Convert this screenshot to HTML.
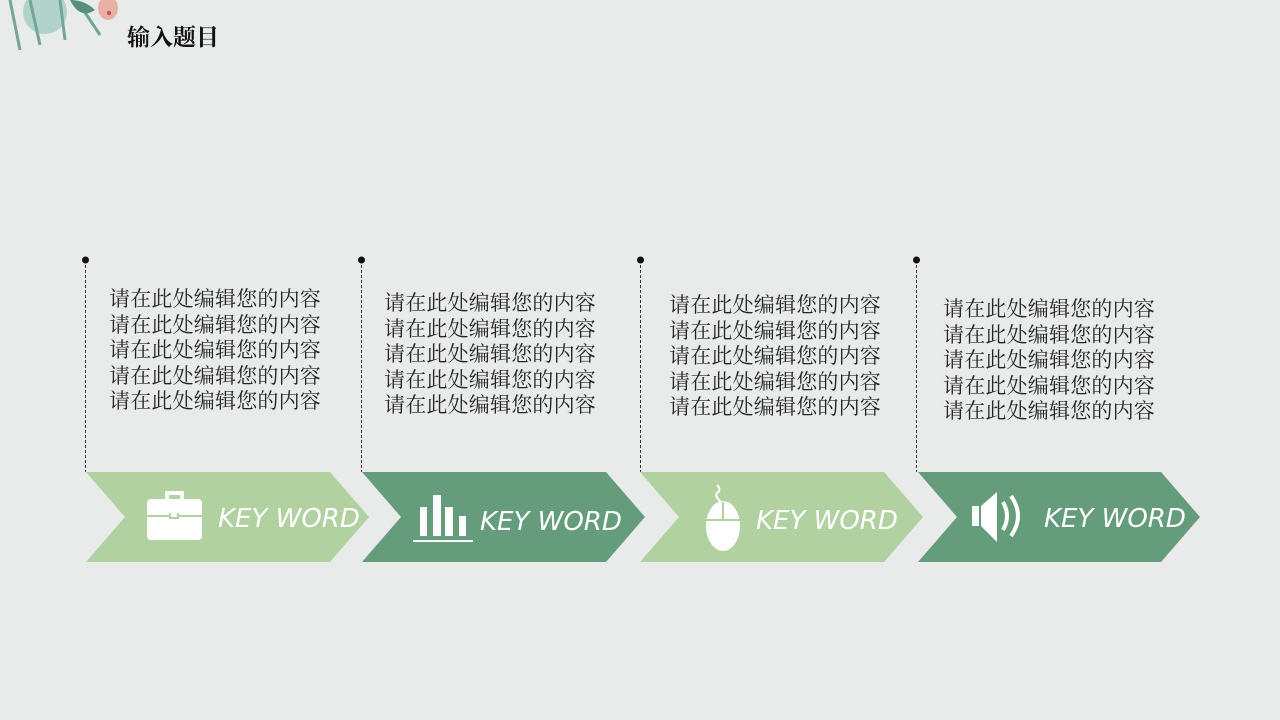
<!DOCTYPE html>
<html><head><meta charset="utf-8"><style>
body{margin:0;width:1280px;height:720px;background:#e9eaea;overflow:hidden;position:relative;font-family:"Liberation Sans","Noto Sans CJK SC",sans-serif}
.t{position:absolute;font-size:21px;line-height:25.5px;color:#262626;white-space:nowrap;letter-spacing:0.2px;font-family:"Liberation Serif","Noto Serif CJK SC",serif}
.title{position:absolute;left:127px;top:19px;font-size:23px;font-weight:bold;color:#111;font-family:"Liberation Serif","Noto Serif CJK SC",serif}
</style></head><body>
<svg width="1280" height="720" style="position:absolute;left:0;top:0">
<g opacity="0.85">
<circle cx="45" cy="12" r="22" fill="#a9cfc4"/>
<path d="M10 0 L20 50 M30 0 L40 45 M60 0 L65 40 M80 5 L100 35" stroke="#5f9a8a" stroke-width="3"/>
<path d="M70 0 Q80 20 95 10 Q85 0 70 0Z" fill="#3f7f6c"/>
<ellipse cx="108" cy="8" rx="10" ry="12" fill="#e8a59a"/>
<circle cx="109" cy="13" r="2" fill="#b33"/>
</g>
<g stroke="#333" stroke-width="1" stroke-dasharray="3,2">
<line x1="85.5" y1="260" x2="85.5" y2="472"/><line x1="361.5" y1="260" x2="361.5" y2="472"/>
<line x1="640.5" y1="260" x2="640.5" y2="472"/><line x1="916.5" y1="260" x2="916.5" y2="472"/>
</g>
<g fill="#111"><circle cx="85.5" cy="260" r="3.5"/><circle cx="361.5" cy="260" r="3.5"/><circle cx="640.5" cy="260" r="3.5"/><circle cx="916.5" cy="260" r="3.5"/></g>
<polygon points="86,472 330,472 369,517 330,562 86,562 125,517" fill="#b1d1a0"/>
<polygon points="362,472 606,472 645,517 606,562 362,562 401,517" fill="#659c7c"/>
<polygon points="640,472 884,472 923,517 884,562 640,562 679,517" fill="#b1d1a0"/>
<polygon points="918,472 1161,472 1200,517 1161,562 918,562 957,517" fill="#659c7c"/>
<g fill="#fff">
<rect x="147" y="499" width="55" height="41" rx="4"/>
<path d="M165 500 v-9 h19 v9 h-4 v-5 h-11 v5z"/>
</g>
<rect x="147" y="515" width="55" height="2" fill="#b1d1a0"/>
<rect x="169" y="513" width="10" height="6" fill="#b1d1a0"/><rect x="171" y="513" width="6" height="4" fill="#fff"/>
<g fill="#fff"><rect x="420" y="507" width="7" height="29"/><rect x="433" y="495" width="8" height="41"/><rect x="445" y="507" width="8" height="29"/><rect x="459" y="516" width="7" height="20"/><rect x="413" y="540" width="60" height="2"/></g>
<g fill="#fff"><ellipse cx="723" cy="526" rx="17" ry="25"/></g>
<path d="M706 520 h34" stroke="#b1d1a0" stroke-width="2"/><path d="M723 502 v18" stroke="#b1d1a0" stroke-width="2"/>
<path d="M717 485 q5 5 0 8 q-3 3 5 10" stroke="#fff" stroke-width="2" fill="none"/>
<g fill="#fff"><rect x="972" y="506" width="7" height="20"/><polygon points="981,506 997,492 997,542 981,526"/></g>
<path d="M1003 502 q8 14 0 28 M1011 496 q14 20 0 40" stroke="#fff" stroke-width="4" fill="none"/>
<g fill="#fff" font-family="DejaVu Sans,sans-serif" font-size="26" font-style="italic" font-weight="300">
<text x="218" y="527">KEY WORD</text><text x="480" y="530">KEY WORD</text><text x="756" y="529">KEY WORD</text><text x="1044" y="527">KEY WORD</text>
</g>
</svg>
<div class="title">输入题目</div>
<div class="t" style="left:109px;top:287px">请在此处编辑您的内容<br>请在此处编辑您的内容<br>请在此处编辑您的内容<br>请在此处编辑您的内容<br>请在此处编辑您的内容</div>
<div class="t" style="left:384px;top:291px">请在此处编辑您的内容<br>请在此处编辑您的内容<br>请在此处编辑您的内容<br>请在此处编辑您的内容<br>请在此处编辑您的内容</div>
<div class="t" style="left:669px;top:293px">请在此处编辑您的内容<br>请在此处编辑您的内容<br>请在此处编辑您的内容<br>请在此处编辑您的内容<br>请在此处编辑您的内容</div>
<div class="t" style="left:943px;top:297px">请在此处编辑您的内容<br>请在此处编辑您的内容<br>请在此处编辑您的内容<br>请在此处编辑您的内容<br>请在此处编辑您的内容</div>
</body></html>
